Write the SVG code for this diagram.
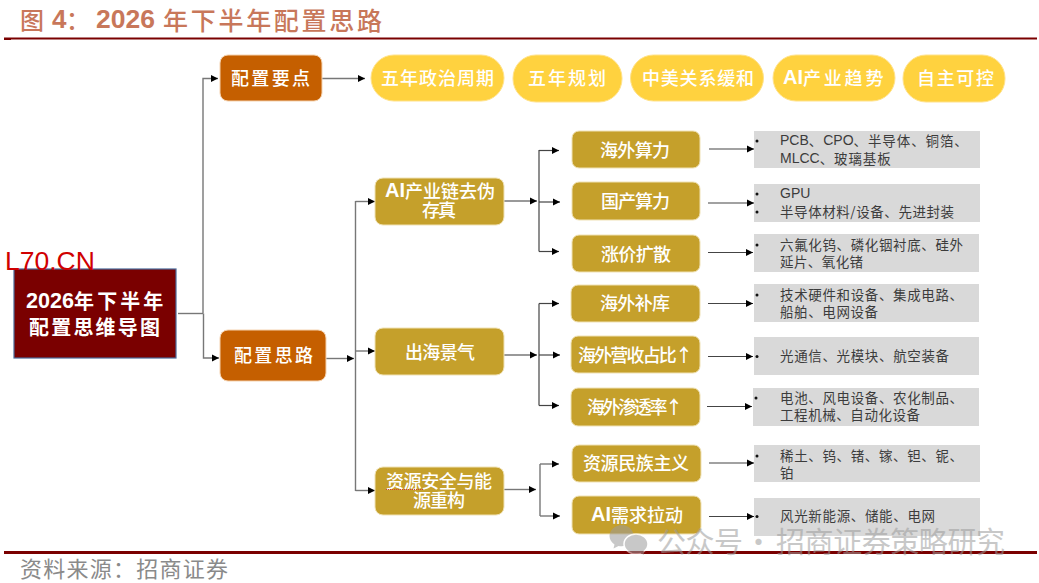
<svg xmlns="http://www.w3.org/2000/svg" width="1039" height="583" viewBox="0 0 1039 583">
<style>
text{font-family:"Noto Sans CJK SC","Liberation Sans",sans-serif;dominant-baseline:central}
.w{fill:#fff;font-size:18px;font-weight:500}
.r{fill:#fff;font-size:20px;font-weight:700}
.g{fill:#3c3c3c;font-size:13.5px;letter-spacing:.9px}
.lat{font-family:"Liberation Sans","Noto Sans CJK SC",sans-serif;letter-spacing:0}
.g .lat{font-size:14px}
.w .lat{font-size:20px;font-weight:700}
.r .lat{font-size:21.6px}
.og{fill:#c55f00;stroke:#f5d3b0;stroke-width:1}
.gd{fill:#c5a02b;stroke:#f0e2b5;stroke-width:1}
.pl{fill:#ffd23f;stroke:#ffe28a;stroke-width:1}
.gb{fill:#d9d9d9}
.bu{fill:#111}
.c{fill:none;stroke:#777;stroke-width:1.4}
.d{fill:none;stroke:#444;stroke-width:1.2}
.a{marker-end:url(#ah)}
</style>
<defs>
<marker id="ah" markerUnits="userSpaceOnUse" markerWidth="8" markerHeight="8" refX="7" refY="4" orient="auto"><path d="M0 0.5L7 4L0 7.500Z" fill="#000"/></marker>
</defs>
<rect width="1039" height="583" fill="#fff"/>
<g id="header">
<text y="18.500" x="20" fill="#c8775a" font-size="24" font-weight="500">图</text>
<text y="19" x="52" fill="#c8775a" font-size="26" font-weight="700" class="lat">4</text>
<text y="18.500" x="66" fill="#c8775a" font-size="24" font-weight="500">：</text>
<text y="19" x="96" fill="#c8775a" font-size="26.500" font-weight="700" class="lat">2026</text>
<text y="18.500" x="163" fill="#c8775a" font-size="25" font-weight="500" textLength="219">年下半年配置思路</text>
<rect x="4" y="37.500" width="1033" height="2" fill="#7a0000"/>
<rect x="4" y="38" width="7" height="2" fill="#7a0000"/>
</g>
<g id="connectors">
<path class="c" d="M178 313.500H203"/>
<path class="c a" d="M203 313.500V78.500H218"/>
<path class="c a" d="M203.500 313.500V358H219"/>
<path class="c a" d="M322 78.500H365"/>
<path class="c a" d="M326 358.500H354"/>
<path class="c" d="M355.500 201V491"/>
<path class="c a" d="M355.500 201.500H375"/>
<path class="c a" d="M355.500 351H375"/>
<path class="c a" d="M355.500 490.500H375"/>
<path class="c a" d="M504 201H537"/>
<path class="d" d="M539 150V251.500"/>
<path class="d a" d="M539 150.500H559"/>
<path class="d a" d="M539 202H560"/>
<path class="d a" d="M539 251.500H559"/>
<path class="c a" d="M504 355H537"/>
<path class="d" d="M539 303.500V405.500"/>
<path class="d a" d="M539 303.500H559"/>
<path class="d a" d="M539 355H560"/>
<path class="d a" d="M539 405.500H559"/>
<path class="c a" d="M504 489.500H536"/>
<path class="c" d="M540 464V516"/>
<path class="c a" d="M540 464H559"/>
<path class="c a" d="M540 516H560"/>
<path class="d a" d="M709 149H754"/>
<path class="d a" d="M708 203H754"/>
<path class="d a" d="M708 252.500H753"/>
<path class="d a" d="M708 303.500H753"/>
<path class="d a" d="M708 356.500H753"/>
<path class="d a" d="M707 406.500H752"/>
<path class="d a" d="M709 463H754"/>
<path class="d a" d="M709 516.500H754"/>
</g>
<g id="root"><rect x="14" y="269" width="162" height="89" fill="#7a0000" stroke="#4a6a9a" stroke-width="1.200"/>
<text class="r" x="26" y="299.500"><tspan class="lat">2026</tspan><tspan letter-spacing="3.100">年下半年</tspan></text><text class="r" x="29" y="326" textLength="131">配置思维导图</text></g>
<g id="n-yaodian"><rect class="og" x="220" y="55" width="102" height="46" rx="8"/><text class="w" x="231" y="77" textLength="79">配置要点</text></g>
<g id="n-silu"><rect class="og" x="220" y="330" width="106" height="51" rx="8"/><text class="w" x="234" y="354" textLength="79">配置思路</text></g>
<g id="p1"><rect class="pl" x="371" y="55" width="133" height="46" rx="23"/><text class="w" x="381" y="77" textLength="113">五年政治周期</text></g>
<g id="p2"><rect class="pl" x="513" y="55" width="109" height="47" rx="23"/><text class="w" x="528" y="77" textLength="78">五年规划</text></g>
<g id="p3"><rect class="pl" x="630.500" y="55" width="133" height="46" rx="23"/><text class="w" x="642" y="77" textLength="112">中美关系缓和</text></g>
<g id="p4"><rect class="pl" x="773" y="55" width="122" height="46" rx="23"/><text class="w" x="783" y="77"><tspan class="lat">AI</tspan><tspan letter-spacing="2.800">产业趋势</tspan></text></g>
<g id="p5"><rect class="pl" x="903" y="55" width="102" height="47" rx="23"/><text class="w" x="917" y="77" textLength="77">自主可控</text></g>
<g id="a1"><rect class="gd" x="375" y="178" width="129" height="47" rx="8"/><text class="w" x="385" y="190"><tspan class="lat">AI</tspan><tspan>产业链去伪</tspan></text><text class="w" x="422" y="209" textLength="34">存真</text></g>
<g id="a2"><rect class="gd" x="375" y="328" width="129" height="47" rx="8"/><text class="w" x="405" y="351" textLength="70">出海景气</text></g>
<g id="a3"><rect class="gd" x="375" y="467" width="129" height="48" rx="8"/><text class="w" x="386" y="480" textLength="106">资源安全与能</text><text class="w" x="413" y="499" textLength="52">源重构</text><path d="M386 489.500H424" stroke="#d04030" stroke-width="1" stroke-dasharray="1 1"/></g>
<g id="b1"><rect class="gd" x="572" y="131" width="128" height="37" rx="7"/><text class="w" x="600" y="149" textLength="70">海外算力</text></g>
<g id="b2"><rect class="gd" x="572" y="182" width="128" height="38" rx="7"/><text class="w" x="601" y="200" textLength="69">国产算力</text></g>
<g id="b3"><rect class="gd" x="572" y="235" width="128" height="37" rx="7"/><text class="w" x="601" y="253" textLength="70">涨价扩散</text></g>
<g id="b4"><rect class="gd" x="571" y="285" width="129" height="37" rx="7"/><text class="w" x="600" y="302" textLength="70">海外补库</text></g>
<g id="b5"><rect class="gd" x="571" y="336" width="129" height="37" rx="7"/><text class="w" x="578" y="354" textLength="115">海外营收占比↑</text></g>
<g id="b6"><rect class="gd" x="571" y="388" width="129" height="38" rx="7"/><text class="w" x="587" y="406" textLength="96">海外渗透率↑</text></g>
<g id="b7"><rect class="gd" x="572" y="445" width="129" height="37" rx="7"/><text class="w" x="583" y="462" textLength="106">资源民族主义</text></g>
<g id="b8"><rect class="gd" x="572" y="496" width="129" height="38" rx="7"/><text class="w" x="591" y="514"><tspan class="lat">AI</tspan><tspan>需求拉动</tspan></text></g>
<g id="g1"><rect class="gb" x="754" y="131" width="226" height="37"/><circle class="bu" cx="757" cy="141" r="1.500"/><text class="g" x="780" y="140"><tspan class="lat">PCB</tspan>、<tspan class="lat">CPO</tspan>、半导体、铜箔、</text><text class="g" x="780" y="158"><tspan class="lat">MLCC</tspan>、玻璃基板</text></g>
<g id="g2"><rect class="gb" x="754" y="184" width="226" height="38"/><circle class="bu" cx="757" cy="194" r="1.500"/><circle class="bu" cx="757" cy="212" r="1.500"/><text class="g" x="780" y="193"><tspan class="lat">GPU</tspan></text><text class="g" x="780" y="211" textLength="175">半导体材料/设备、先进封装</text></g>
<g id="g3"><rect class="gb" x="754" y="234" width="225" height="38"/><circle class="bu" cx="757" cy="245" r="1.500"/><text class="g" x="780" y="244" textLength="184">六氟化钨、磷化铟衬底、硅外</text><text class="g" x="780" y="261" textLength="84">延片、氧化锗</text></g>
<g id="g4"><rect class="gb" x="754" y="284" width="225" height="38"/><circle class="bu" cx="757" cy="295" r="1.500"/><text class="g" x="780" y="294" textLength="184">技术硬件和设备、集成电路、</text><text class="g" x="780" y="311" textLength="99">船舶、电网设备</text></g>
<g id="g5"><rect class="gb" x="754" y="337" width="225" height="38"/><circle class="bu" cx="757" cy="356.500" r="1.500"/><text class="g" x="780" y="355" textLength="170">光通信、光模块、航空装备</text></g>
<g id="g6"><rect class="gb" x="753" y="388" width="226" height="38"/><circle class="bu" cx="756" cy="398" r="1.500"/><text class="g" x="780" y="397" textLength="184">电池、风电设备、农化制品、</text><text class="g" x="780" y="414" textLength="141">工程机械、自动化设备</text></g>
<g id="g7"><rect class="gb" x="754" y="445" width="226" height="37"/><circle class="bu" cx="757" cy="456" r="1.500"/><text class="g" x="780" y="455" textLength="184">稀土、钨、锗、镓、钽、铌、</text><text class="g" x="780" y="472" textLength="13">铂</text></g>
<g id="g8"><rect class="gb" x="754" y="498" width="226" height="38"/><circle class="bu" cx="757" cy="516.500" r="1.500"/><text class="g" x="780" y="515" textLength="156">风光新能源、储能、电网</text></g>
<rect id="rule-bottom" x="4" y="551" width="1033" height="3" fill="#7a0000"/>
<text id="overlay-l70" class="lat" x="5" y="270" fill="#d00000" font-size="26.500" style="dominant-baseline:auto">L70.CN</text>
<g id="watermark" opacity="0.55" fill="#9c9c9c">
<path d="M622 525c-7 0-12.500 5-12.500 11 0 3.500 2 6.500 5 8.500l-1 4 5-2.500c1 .2 2 .3 3 .3 6 0 12-4 12-10.300 0-6-5-11-11.500-11z"/>
<ellipse cx="636" cy="544" rx="12" ry="10" stroke="#fff" stroke-width="1.500"/>
<path d="M639 552l5 3-1-6z"/>
<text x="657" y="540" font-size="29" textLength="86">公众号</text>
<text x="744" y="540" font-size="29">·</text>
<text x="776" y="540" font-size="29" textLength="229">招商证券策略研究</text>
</g>
<text id="source" x="20" y="566.500" fill="#8a8a8a" font-size="22" textLength="208">资料来源：招商证券</text>
</svg>
